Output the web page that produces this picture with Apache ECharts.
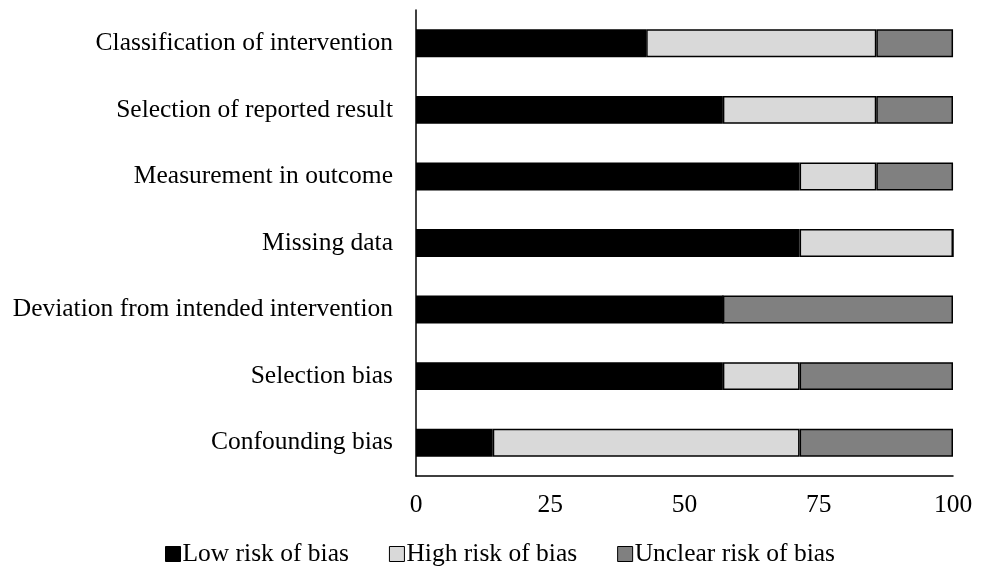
<!DOCTYPE html>
<html><head><meta charset="utf-8">
<script src="https://cdn.jsdelivr.net/npm/echarts@6/dist/echarts.min.js"></script>
<style>html,body{margin:0;padding:0;background:#fff}#c{width:985px;height:566px}</style>
</head><body><div id="c"></div>
<script>
const categories = ["Confounding bias","Selection bias","Deviation from intended intervention","Missing data","Measurement in outcome","Selection of reported result","Classification of intervention"];
const lowRisk = [14.29, 57.14, 57.14, 71.43, 71.43, 57.14, 42.86];
const highRisk = [57.14, 14.29, 0, 28.57, 14.29, 28.57, 42.86];
const unclearRisk = [28.57, 28.57, 42.86, 0, 14.29, 14.29, 14.29];
const xTicks = [0, 25, 50, 75, 100];

const font = "'Liberation Serif','Times New Roman',serif";
const fs = 25.5;
const chart = echarts.init(document.getElementById('c'));
function mk(name, data, color){
  return {name, type:'bar', stack:'t', data, barWidth:'42%',
    itemStyle:{color, borderColor:'#000', borderWidth:1.5},
    emphasis:{disabled:true}};
}
chart.setOption({
  animation:false,
  grid:{left:416, right:32, top:10, bottom:90},
  xAxis:{type:'value', min:0, max:100, interval:25,
    axisLine:{show:true, lineStyle:{color:'#000', width:1.5}},
    axisTick:{show:false}, splitLine:{show:false},
    axisLabel:{fontFamily:font, fontSize:fs, color:'#000', margin:16,
      formatter:v=>xTicks.includes(v)?String(v):''}},
  yAxis:{type:'category', data:categories,
    axisLine:{show:true, lineStyle:{color:'#000', width:1.5}},
    axisTick:{show:false},
    axisLabel:{fontFamily:font, fontSize:fs, color:'#000', margin:23}},
  legend:{top:536, left:160, itemWidth:15, itemHeight:15, itemGap:40,
    textStyle:{fontFamily:font, fontSize:fs, color:'#000', padding:[0,0,0,-3]},
    data:[
      {name:'Low risk of bias', icon:'rect', itemStyle:{color:'#000', borderColor:'#000', borderWidth:1}},
      {name:'High risk of bias', icon:'rect', itemStyle:{color:'#d9d9d9', borderColor:'#000', borderWidth:1}},
      {name:'Unclear risk of bias', icon:'rect', itemStyle:{color:'#808080', borderColor:'#000', borderWidth:1}}
    ]},
  series:[mk('Low risk of bias', lowRisk, '#000'), mk('High risk of bias', highRisk, '#d9d9d9'), mk('Unclear risk of bias', unclearRisk, '#808080')]
});
</script></body></html>
